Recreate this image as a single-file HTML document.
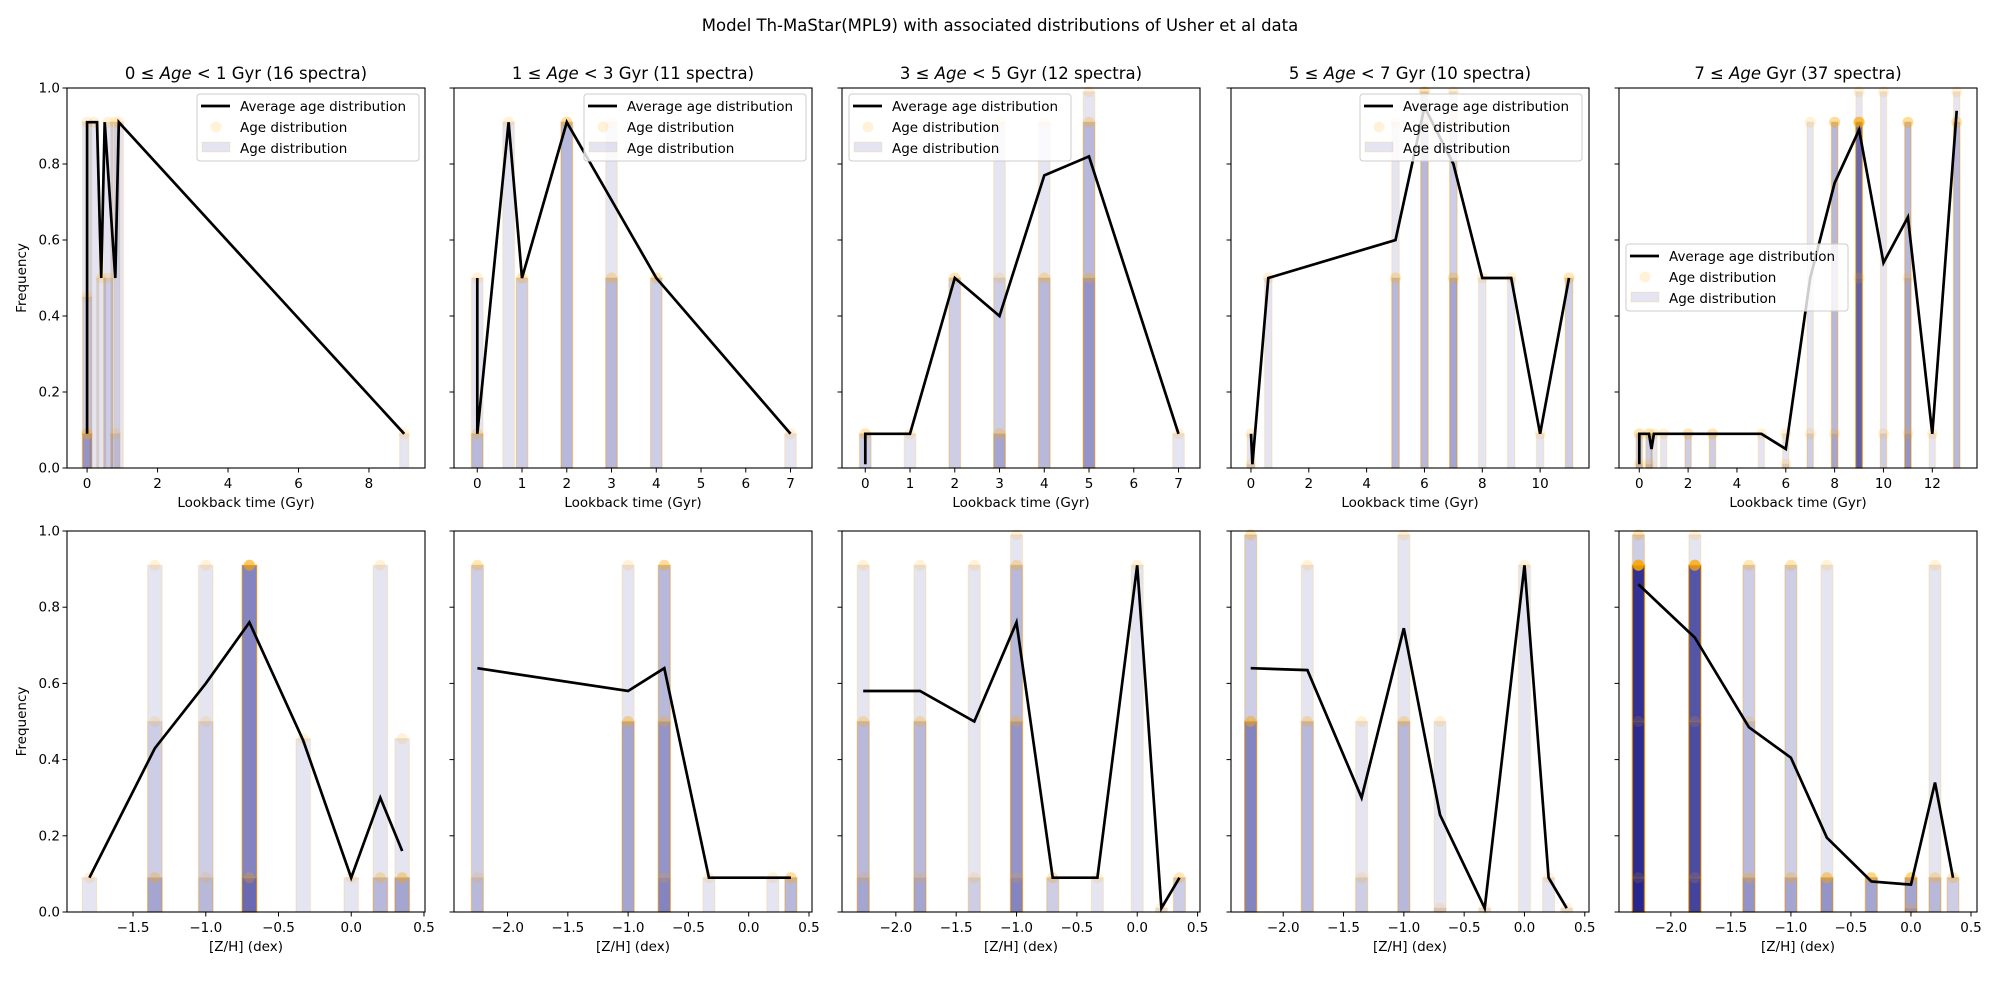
<!DOCTYPE html>
<html><head><meta charset="utf-8">
<style>
body{margin:0;background:#fff;}
svg{display:block;font-family:"DejaVu Sans","Liberation Sans",sans-serif;}
</style></head>
<body>
<svg id="fig" width="2000" height="1000" viewBox="0 0 2000 1000" xmlns="http://www.w3.org/2000/svg">
<rect width="2000" height="1000" fill="#fff"/>
<text x="1000" y="31" font-size="16.5" text-anchor="middle">Model Th-MaStar(MPL9) with associated distributions of Usher et al data</text>
</svg>
<script>
// ---- data: top row (lookback time) ----
const ageTitles = [["0","< 1 Gyr (16 spectra)"],["1","< 3 Gyr (11 spectra)"],["3","< 5 Gyr (12 spectra)"],["5","< 7 Gyr (10 spectra)"],["7","Gyr (37 spectra)"]];
const ageLineX1 = [0,0,0.28,0.4,0.5,0.8,0.9,9];
const ageLineY1 = [0.09,0.91,0.91,0.5,0.91,0.5,0.91,0.09];
const ageLineX2 = [0,0,0.7,1,2,4,7];
const ageLineY2 = [0.5,0.09,0.91,0.5,0.91,0.5,0.09];
const ageLineX3 = [0,0,1,2,3,4,5,7];
const ageLineY3 = [0.01,0.09,0.09,0.5,0.4,0.77,0.82,0.09];
const ageLineX4 = [0,0.05,0.6,5,6,7,8,9,10,11];
const ageLineY4 = [0.09,0.01,0.5,0.6,0.95,0.8,0.5,0.5,0.09,0.5];
const ageLineX5 = [0,0,0.4,0.5,0.6,5,6,7,8,9,10,11,12,13];
const ageLineY5 = [0.01,0.09,0.09,0.05,0.09,0.09,0.05,0.5,0.75,0.89,0.54,0.66,0.09,0.94];
const ageBarX1 = [0,0.2,0.4,0.6,0.8,0.9,9];
const ageBarH1 = [[0.91,0.45,0.09,0.09,0.09],[0.91],[0.5],[0.91,0.5],[0.91,0.09],[0.91],[0.09]];
const ageBarX2 = [0,0.7,1,2,3,4,7];
const ageBarH2 = [[0.5,0.09,0.09],[0.91],[0.5,0.5],[0.91,0.91,0.91],[0.91,0.5,0.5],[0.5,0.5],[0.09]];
const ageBarX3 = [0,1,2,3,4,5,7];
const ageBarH3 = [[0.09,0.09],[0.09],[0.5,0.5],[0.91,0.5,0.09,0.09],[0.91,0.5,0.5],[0.99,0.91,0.91,0.5,0.5],[0.09]];
const ageBarX4 = [0,0.6,5,6,7,8,9,10,11];
const ageBarH4 = [[0.09,0.01],[0.5],[0.91,0.5,0.5],[0.99,0.99,0.91],[0.99,0.91,0.5,0.5],[0.5],[0.5],[0.09],[0.5,0.5]];
const ageBarX5 = [0,0.4,0.6,1,2,3,5,6,7,8,9,10,11,12,13];
const ageBarH5 = [[0.09,0.09,0.01],[0.09,0.09,0.01],[0.09],[0.09],[0.09,0.09],[0.09,0.09],[0.09],[0.09,0.01],[0.91,0.09],[0.91,0.91,0.91,0.09],[0.99,0.91,0.91,0.91,0.91,0.91,0.91,0.91,0.5],[0.99,0.09],[0.91,0.91,0.91,0.5,0.09],[0.09],[0.99,0.91,0.91]];
const ageTicks1 = [0,2,4,6,8];
const ageTicks2 = [0,1,2,3,4,5,6,7];
const ageTicks3 = [0,1,2,3,4,5,6,7];
const ageTicks4 = [0,2,4,6,8,10];
const ageTicks5 = [0,2,4,6,8,10,12];
// ---- data: bottom row (metallicity) ----
const zLineX1 = [-1.8,-1.35,-1.0,-0.7,-0.33,0,0.2,0.35];
const zLineY1 = [0.09,0.43,0.6,0.76,0.45,0.09,0.3,0.16];
const zLineX2 = [-2.25,-1.0,-0.7,-0.33,0.35];
const zLineY2 = [0.64,0.58,0.64,0.09,0.09];
const zLineX3 = [-2.27,-1.8,-1.35,-1.0,-0.7,-0.33,0,0.2,0.35];
const zLineY3 = [0.58,0.58,0.5,0.76,0.09,0.09,0.91,0.01,0.09];
const zLineX4 = [-2.27,-1.8,-1.35,-1.0,-0.7,-0.33,0,0.2,0.35];
const zLineY4 = [0.64,0.635,0.3,0.745,0.255,0.01,0.91,0.09,0.01];
const zLineX5 = [-2.27,-1.8,-1.35,-1.0,-0.7,-0.33,0,0.2,0.35];
const zLineY5 = [0.86,0.72,0.485,0.405,0.195,0.08,0.072,0.34,0.09];
const zBarX1 = [-1.8,-1.35,-1.0,-0.7,-0.33,0,0.2,0.35];
const zBarH1 = [[0.09],[0.91,0.5,0.09,0.09],[0.91,0.5,0.09],[0.91,0.91,0.91,0.91,0.91,0.91,0.09,0.09],[0.455],[0.09],[0.91,0.09,0.09],[0.455,0.09,0.09,0.09]];
const zBarX2 = [-2.25,-1.0,-0.7,-0.33,0.2,0.35];
const zBarH2 = [[0.91,0.91,0.09],[0.91,0.5,0.5,0.5],[0.91,0.91,0.91,0.5,0.5,0.09],[0.09],[0.09],[0.09,0.09,0.09]];
const zBarX3 = [-2.27,-1.8,-1.35,-1.0,-0.7,-0.33,0,0.2,0.35];
const zBarH3 = [[0.91,0.5,0.5,0.09],[0.91,0.5,0.5,0.09],[0.91,0.09],[0.99,0.91,0.91,0.5,0.5,0.09],[0.09,0.09],[0.09],[0.91],[0.01],[0.09,0.09]];
const zBarX4 = [-2.27,-1.8,-1.35,-1.0,-0.7,-0.33,0,0.2,0.35];
const zBarH4 = [[0.99,0.99,0.5,0.5,0.5,0.5],[0.91,0.5,0.5],[0.5,0.09],[0.99,0.5,0.5],[0.5,0.01],[0.01],[0.91],[0.09],[0.01]];
const zBarX5 = [-2.27,-1.8,-1.35,-1.0,-0.7,-0.33,0,0.2,0.35];
const zBarH5 = [[0.99,0.99,0.91,0.91,0.91,0.91,0.91,0.91,0.91,0.91,0.91,0.91,0.91,0.91,0.91,0.5,0.09],[0.99,0.91,0.91,0.91,0.91,0.91,0.91,0.91,0.91,0.91,0.5,0.09],[0.91,0.91,0.5,0.09,0.09],[0.91,0.91,0.09,0.09],[0.91,0.09,0.09,0.09,0.09],[0.09,0.09,0.09,0.09],[0.09,0.09,0.09,0.09,0.01],[0.91,0.09,0.09],[0.09,0.09]];
const zTicks1 = [-1.5,-1.0,-0.5,0.0,0.5];
const zTicks = [-2.0,-1.5,-1.0,-0.5,0.0,0.5];
const yTicks = [0.0,0.2,0.4,0.6,0.8,1.0];

const NS="http://www.w3.org/2000/svg";
const svg=document.getElementById('fig');
function mk(tag,attrs,parent){const e=document.createElementNS(NS,tag);for(const k in attrs)e.setAttribute(k,attrs[k]);(parent||svg).appendChild(e);return e;}
const lefts=[67,454,842,1231,1619];
const PW=358;
const topRow={y0:468,y1:88};
const botRow={y0:912,y1:531};
const ageXlim=[[-0.57,9.59],[-0.52,7.48],[-0.52,7.48],[-0.69,11.69],[-0.83,13.83]];
const zXlim=[[-1.954,0.507],[-2.444,0.525],[-2.446,0.52],[-2.433,0.535],[-2.432,0.55]];
const ageLX=[ageLineX1,ageLineX2,ageLineX3,ageLineX4,ageLineX5];
const ageLY=[ageLineY1,ageLineY2,ageLineY3,ageLineY4,ageLineY5];
const ageBX=[ageBarX1,ageBarX2,ageBarX3,ageBarX4,ageBarX5];
const ageBH=[ageBarH1,ageBarH2,ageBarH3,ageBarH4,ageBarH5];
const ageT=[ageTicks1,ageTicks2,ageTicks3,ageTicks4,ageTicks5];
const zLX=[zLineX1,zLineX2,zLineX3,zLineX4,zLineX5];
const zLY=[zLineY1,zLineY2,zLineY3,zLineY4,zLineY5];
const zBX=[zBarX1,zBarX2,zBarX3,zBarX4,zBarX5];
const zBH=[zBarH1,zBarH2,zBarH3,zBarH4,zBarH5];
const legendPos=[[197,94],[584,94],[849,94],[1360,94],[1626,244]];

function fmt(v,dec){let s=v.toFixed(dec);if(v<0)s='\u2212'+s.slice(1);return s;}

function panel(i,row){
  const isTop=row===0;
  const L=lefts[i];
  const Y0=isTop?topRow.y0:botRow.y0, Y1=isTop?topRow.y1:botRow.y1;
  const xl=isTop?ageXlim[i]:zXlim[i];
  const xs=v=>L+(v-xl[0])/(xl[1]-xl[0])*PW;
  const ys=v=>Y0-v*(Y0-Y1);
  const g=mk('g',{});
  
  
  const bw=isTop?0.26:0.1;
  const BX=isTop?ageBX[i]:zBX[i], BH=isTop?ageBH[i]:zBH[i];
  BX.forEach((x,j)=>{
    BH[j].forEach(h=>{
      const r=mk('rect',{x:xs(x-bw/2),y:ys(h),width:xs(x+bw/2)-xs(x-bw/2),height:ys(0)-ys(h),fill:'#000080','fill-opacity':0.1,stroke:'#ffa500','stroke-opacity':0.15,'stroke-width':1.3},g);
      
      
    });
  });
  BX.forEach((x,j)=>{
    BH[j].forEach(h=>{
      const c=mk('circle',{cx:xs(x),cy:ys(h),r:5.5,fill:'#ffa500','fill-opacity':0.15},g);
      
      
    });
  });
  const LX=isTop?ageLX[i]:zLX[i], LY=isTop?ageLY[i]:zLY[i];
  const pts=LX.map((x,j)=>xs(x).toFixed(1)+','+ys(LY[j]).toFixed(1)).join(' ');
  const pl=mk('polyline',{points:pts,fill:'none',stroke:'#000','stroke-width':2.7,'stroke-linejoin':'miter'},g);
  
  
  const fr=mk('rect',{x:L,y:Y1,width:PW,height:Y0-Y1,fill:'none',stroke:'#000','stroke-width':1.1},g);
  
  
  yTicks.forEach(t=>{
    mk('line',{x1:L-4.5,x2:L,y1:ys(t),y2:ys(t),stroke:'#000','stroke-width':1},g);
    if(i===0){
      const tx=mk('text',{x:L-7,y:ys(t)+4.5,'font-size':13.5,'text-anchor':'end'},g);
      tx.textContent=t.toFixed(1);
      
      
    }
  });
  const T=isTop?ageT[i]:(i===0?zTicks1:zTicks);
  T.forEach(t=>{
    mk('line',{x1:xs(t),x2:xs(t),y1:Y0,y2:Y0+4.5,stroke:'#000','stroke-width':1},g);
    const tx=mk('text',{x:xs(t),y:Y0+20,'font-size':13.5,'text-anchor':'middle'},g);
    tx.textContent=isTop?String(t):fmt(t,1);
    
    
  });
  const xlab=mk('text',{x:L+PW/2,y:Y0+39,'font-size':13.5,'text-anchor':'middle'},g);
  xlab.textContent=isTop?'Lookback time (Gyr)':'[Z/H] (dex)';
  
  
  if(i===0){
    const yl=mk('text',{x:0,y:0,'font-size':13.5,'text-anchor':'middle',transform:`translate(26,${(Y0+Y1)/2}) rotate(-90)`},g);
    yl.textContent='Frequency';
    
    
  }
  if(isTop){
    const tt=mk('text',{x:L+PW/2,y:79,'font-size':16.5,'text-anchor':'middle'},g);
    
    
    const a=mk('tspan',{},tt);a.textContent=ageTitles[i][0]+' \u2264 ';
    const b=mk('tspan',{'font-style':'italic'},tt);b.textContent='Age';
    const c=mk('tspan',{},tt);c.textContent=' '+ageTitles[i][1];
    const [lx,ly]=legendPos[i];
    const lg=mk('g',{},g);
    
    
    mk('rect',{x:lx,y:ly,width:222,height:67,rx:3,fill:'#fff','fill-opacity':0.8,stroke:'#ccc','stroke-width':1},lg);
    mk('line',{x1:lx+4,x2:lx+33,y1:ly+12,y2:ly+12,stroke:'#000','stroke-width':2.7},lg);
    mk('circle',{cx:lx+19,cy:ly+33,r:5.5,fill:'#ffa500','fill-opacity':0.15},lg);
    mk('rect',{x:lx+5,y:ly+48,width:28,height:10,fill:'#000080','fill-opacity':0.1,stroke:'#ffa500','stroke-opacity':0.15},lg);
    const labs=['Average age distribution','Age distribution','Age distribution'];
    labs.forEach((s,k)=>{
      const t=mk('text',{x:lx+43,y:ly+17+k*21,'font-size':13.5},lg);
      t.textContent=s;
      
      
    });
  }
}
for(let i=0;i<5;i++){panel(i,0);panel(i,1);}
</script>
</body></html>
